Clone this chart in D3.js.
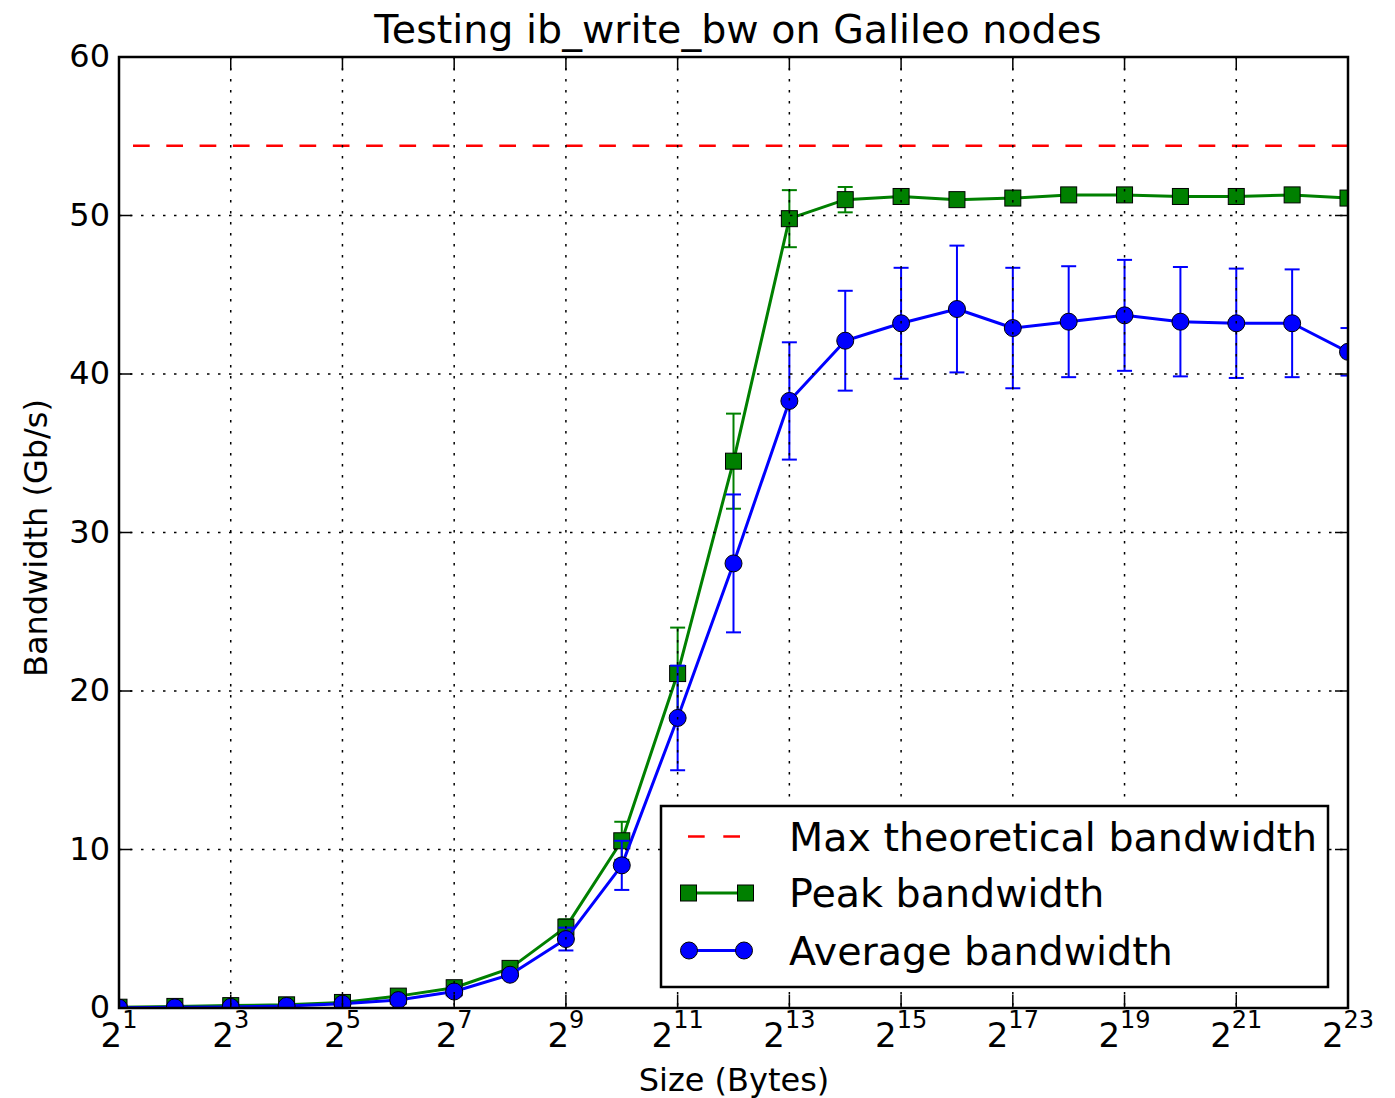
<!DOCTYPE html>
<html>
<head>
<meta charset="utf-8">
<script src="https://cdn.jsdelivr.net/npm/d3@7"></script>
<style>
  html, body { margin: 0; padding: 0; background: #fff; }
  svg { display: block; font-family: "DejaVu Sans", sans-serif; }
</style>
</head>
<body>
<svg id="chart" width="1395" height="1098"></svg>
<script>
// Message sizes as powers of two (2^1 .. 2^23 bytes)
const exponents = [1,2,3,4,5,6,7,8,9,10,11,12,13,14,15,16,17,18,19,20,21,22,23];

// Peak bandwidth (Gb/s) and its error
const peakBw  = [0.05,0.1,0.15,0.2,0.35,0.75,1.28,2.5,5.1,10.55,21.1,34.5,49.8,51.0,51.2,51.0,51.1,51.3,51.3,51.2,51.2,51.3,51.1];
const peakErr = [0.05,0.05,0.05,0.05,0.05,0.05,0.1,0.1,0.5,1.2,2.9,3.0,1.8,0.8,0.3,0.2,0.2,0.2,0.2,0.2,0.2,0.2,0.2];

// Average bandwidth (Gb/s) and its error
const avgBw  = [0.02,0.04,0.07,0.13,0.27,0.5,1.04,2.1,4.35,9.0,18.3,28.05,38.3,42.1,43.2,44.1,42.9,43.3,43.7,43.3,43.2,43.2,41.4];
const avgErr = [0.02,0.02,0.03,0.04,0.05,0.1,0.3,0.15,0.72,1.55,3.3,4.35,3.7,3.15,3.5,4.0,3.8,3.5,3.5,3.45,3.45,3.4,1.5];

// Theoretical link maximum (Gb/s)
const maxTheoretical = 54.4;

// Axis ticks
const xTickExponents = [1,3,5,7,9,11,13,15,17,19,21,23];
const yTicks = [0,10,20,30,40,50,60];

const titleText = "Testing ib_write_bw on Galileo nodes";
const xLabel = "Size (Bytes)";
const yLabel = "Bandwidth (Gb/s)";
const legendLabels = ["Max theoretical bandwidth", "Peak bandwidth", "Average bandwidth"];

const colors = { max: "#ff0000", peak: "#008000", avg: "#0000ff" };

const plot = { left: 119, right: 1348, top: 57, bottom: 1008 };

const svg = d3.select("#chart");

const x = d3.scaleLog().base(2).domain([2, Math.pow(2, 23)]).range([plot.left, plot.right]);
const y = d3.scaleLinear().domain([0, 60]).range([plot.bottom, plot.top]);

svg.append("defs").append("clipPath").attr("id", "plotClip")
  .append("rect")
  .attr("x", plot.left).attr("y", plot.top)
  .attr("width", plot.right - plot.left).attr("height", plot.bottom - plot.top);

const peakData = exponents.map((e, i) => ({ x: Math.pow(2, e), v: peakBw[i], err: peakErr[i] }));
const avgData  = exponents.map((e, i) => ({ x: Math.pow(2, e), v: avgBw[i],  err: avgErr[i] }));

const layer = svg.append("g").attr("clip-path", "url(#plotClip)");

// Theoretical maximum dashed line
layer.append("line")
  .attr("x1", plot.left).attr("x2", plot.right)
  .attr("y1", y(maxTheoretical)).attr("y2", y(maxTheoretical))
  .attr("stroke", colors.max).attr("stroke-width", 2.5)
  .attr("stroke-dasharray", "16.7,16.6").attr("stroke-dashoffset", 19.3);

const line = d3.line().x(d => x(d.x)).y(d => y(d.v));

function drawSeries(data, color, marker) {
  const g = layer.append("g");
  // connecting line
  g.append("path").datum(data)
    .attr("d", line).attr("fill", "none")
    .attr("stroke", color).attr("stroke-width", 3).attr("stroke-linejoin", "round");
  // error bars
  const eb = g.selectAll("g.eb").data(data).enter().append("g");
  eb.append("line")
    .attr("x1", d => x(d.x)).attr("x2", d => x(d.x))
    .attr("y1", d => y(d.v - d.err)).attr("y2", d => y(d.v + d.err))
    .attr("stroke", color).attr("stroke-width", 2);
  [-1, 1].forEach(s => {
    eb.append("line")
      .attr("x1", d => x(d.x) - 7.5).attr("x2", d => x(d.x) + 7.5)
      .attr("y1", d => y(d.v + s * d.err)).attr("y2", d => y(d.v + s * d.err))
      .attr("stroke", color).attr("stroke-width", 2);
  });
  // markers
  if (marker === "square") {
    g.selectAll("rect.m").data(data).enter().append("rect")
      .attr("x", d => x(d.x) - 8).attr("y", d => y(d.v) - 8)
      .attr("width", 16).attr("height", 16)
      .attr("fill", color).attr("stroke", "#000").attr("stroke-width", 1);
  } else {
    g.selectAll("circle.m").data(data).enter().append("circle")
      .attr("cx", d => x(d.x)).attr("cy", d => y(d.v)).attr("r", 8.5)
      .attr("fill", color).attr("stroke", "#000").attr("stroke-width", 1);
  }
}

drawSeries(peakData, colors.peak, "square");
drawSeries(avgData, colors.avg, "circle");

// Dotted grid, drawn above the data
const grid = svg.append("g").attr("stroke", "#000").attr("stroke-width", 1.5)
  .attr("stroke-dasharray", "2.5,8.5");
grid.selectAll("line.gx").data(xTickExponents).enter().append("line")
  .attr("x1", e => x(Math.pow(2, e))).attr("x2", e => x(Math.pow(2, e)))
  .attr("y1", plot.top).attr("y2", plot.bottom);
grid.selectAll("line.gy").data(yTicks).enter().append("line")
  .attr("x1", plot.left).attr("x2", plot.right)
  .attr("y1", d => y(d)).attr("y2", d => y(d));

// Tick marks on all four sides, pointing inward
const tickLen = 13;
const ticks = svg.append("g").attr("stroke", "#000").attr("stroke-width", 1.5);
xTickExponents.forEach(e => {
  const px = x(Math.pow(2, e));
  ticks.append("line").attr("x1", px).attr("x2", px).attr("y1", plot.bottom).attr("y2", plot.bottom - tickLen);
  ticks.append("line").attr("x1", px).attr("x2", px).attr("y1", plot.top).attr("y2", plot.top + tickLen);
});
yTicks.forEach(v => {
  const py = y(v);
  ticks.append("line").attr("x1", plot.left).attr("x2", plot.left + tickLen).attr("y1", py).attr("y2", py);
  ticks.append("line").attr("x1", plot.right).attr("x2", plot.right - tickLen).attr("y1", py).attr("y2", py);
});

// Frame
svg.append("rect")
  .attr("x", plot.left).attr("y", plot.top)
  .attr("width", plot.right - plot.left).attr("height", plot.bottom - plot.top)
  .attr("fill", "none").attr("stroke", "#000").attr("stroke-width", 2.5);

// Y tick labels
svg.append("g").selectAll("text").data(yTicks).enter().append("text")
  .attr("x", 110).attr("y", d => y(d) + 10)
  .attr("text-anchor", "end").attr("font-size", 32).attr("fill", "#000")
  .text(d => d);

// X tick labels as powers of two
const xt = svg.append("g").selectAll("text").data(xTickExponents).enter().append("text")
  .attr("x", e => x(Math.pow(2, e))).attr("y", 1047)
  .attr("text-anchor", "middle").attr("font-size", 34).attr("fill", "#000");
xt.append("tspan").text("2");
xt.append("tspan").attr("font-size", 24).attr("dy", -19).text(e => e);

// Title and axis labels
svg.append("text").attr("x", 738).attr("y", 43).attr("text-anchor", "middle")
  .attr("font-size", 39.6).attr("fill", "#000").text(titleText);
svg.append("text").attr("x", 734).attr("y", 1091).attr("text-anchor", "middle")
  .attr("font-size", 32).attr("fill", "#000").text(xLabel);
svg.append("text").attr("transform", "translate(47,538) rotate(-90)")
  .attr("text-anchor", "middle").attr("font-size", 32).attr("fill", "#000").text(yLabel);

// Legend
const legend = svg.append("g");
legend.append("rect").attr("x", 661).attr("y", 806).attr("width", 667).attr("height", 181)
  .attr("fill", "#fff").attr("stroke", "#000").attr("stroke-width", 2.5);

const rowY = [836.5, 893, 950.5];
legend.append("line").attr("x1", 688).attr("x2", 740).attr("y1", rowY[0]).attr("y2", rowY[0])
  .attr("stroke", colors.max).attr("stroke-width", 2.5).attr("stroke-dasharray", "16.7,18.6");

legend.append("line").attr("x1", 688.5).attr("x2", 745.5).attr("y1", rowY[1]).attr("y2", rowY[1])
  .attr("stroke", colors.peak).attr("stroke-width", 3);
[688.5, 745.5].forEach(cx => legend.append("rect")
  .attr("x", cx - 8).attr("y", rowY[1] - 8).attr("width", 16).attr("height", 16)
  .attr("fill", colors.peak).attr("stroke", "#000").attr("stroke-width", 1));

legend.append("line").attr("x1", 689).attr("x2", 744).attr("y1", rowY[2]).attr("y2", rowY[2])
  .attr("stroke", colors.avg).attr("stroke-width", 3);
[689, 744].forEach(cx => legend.append("circle")
  .attr("cx", cx).attr("cy", rowY[2]).attr("r", 8.5)
  .attr("fill", colors.avg).attr("stroke", "#000").attr("stroke-width", 1));

legend.selectAll("text.lbl").data(legendLabels).enter().append("text")
  .attr("x", 789).attr("y", (d, i) => rowY[i] + 14)
  .attr("font-size", 39.6).attr("fill", "#000").text(d => d);
</script>
</body>
</html>
